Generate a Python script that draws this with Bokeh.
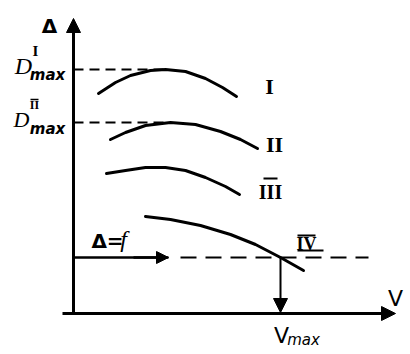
from bokeh.plotting import figure
from bokeh.models import Range1d, Arrow, NormalHead
from bokeh.core.properties import value
from bokeh.embed import file_html
from bokeh.resources import INLINE

# ---- data (V along x, Δ along y; origin at the axes crossing) ----
curve_I_v = [25, 42, 57, 77, 92, 112, 132, 149, 163]
curve_I_d = [220, 231, 238, 243, 244, 242, 235, 226, 217]
curve_II_v = [37, 52, 72, 97, 122, 147, 167, 184]
curve_II_d = [174, 181, 188, 191, 189, 182, 174, 165]
curve_III_v = [33, 52, 72, 92, 112, 132, 152, 166]
curve_III_d = [140, 143, 146, 146, 143, 136, 127, 119]
curve_IV_v = [72, 97, 127, 157, 182, 207, 230]
curve_IV_d = [97, 94, 88, 79, 69, 56, 43]
curve_labels = ["I", "II", "III", "IV"]

d_max_I = 244
d_max_I_v = 92
d_max_II = 191
d_max_II_v = 90
f_level = 56
v_max = 207
v_axis_end = 322
d_axis_end = 295

p = figure(width=410, height=354, output_backend="svg", toolbar_location=None,
           x_range=Range1d(-73, 337), y_range=Range1d(-41, 313),
           min_border=0, background_fill_color="white", border_fill_color="white")
p.axis.visible = False
p.grid.visible = False
p.outline_line_color = None

K = "black"
LW = 3

# axes
p.line([-11, v_axis_end - 6], [0, 0], line_width=LW, line_color=K)
p.add_layout(Arrow(end=NormalHead(size=14, fill_color=K, line_color=K, line_width=1),
                   x_start=v_axis_end - 20, y_start=0, x_end=v_axis_end, y_end=0,
                   line_width=LW, line_color=K))
p.line([0, 0], [0, d_axis_end - 6], line_width=LW, line_color=K)
p.add_layout(Arrow(end=NormalHead(size=14, fill_color=K, line_color=K, line_width=1),
                   x_start=0, y_start=d_axis_end - 20, x_end=0, y_end=d_axis_end,
                   line_width=LW, line_color=K))

# curves
for xs, ys in [(curve_I_v, curve_I_d), (curve_II_v, curve_II_d),
               (curve_III_v, curve_III_d), (curve_IV_v, curve_IV_d)]:
    p.line(xs, ys, line_width=LW, line_color=K, line_cap="round", line_join="round")

# Dmax dashed guides
p.line([0, d_max_I_v], [d_max_I, d_max_I], line_width=2, line_color=K, line_dash="10 6")
p.line([0, d_max_II_v], [d_max_II, d_max_II], line_width=2, line_color=K, line_dash="10 6")

# Δ = f line: solid with arrow, then dashed
p.line([0, 95], [f_level, f_level], line_width=2.5, line_color=K)
p.add_layout(Arrow(end=NormalHead(size=12, fill_color=K, line_color=K, line_width=1),
                   x_start=60, y_start=f_level, x_end=95, y_end=f_level,
                   line_width=2.5, line_color=K))
p.line([107, 295], [f_level, f_level], line_width=2, line_color=K, line_dash="16 9")

# vertical arrow to Vmax
p.add_layout(Arrow(end=NormalHead(size=14, fill_color=K, line_color=K, line_width=1),
                   x_start=v_max, y_start=f_level, x_end=v_max, y_end=1,
                   line_width=2, line_color=K))

def txt(x, y, s, size, font="DejaVu Sans", style="normal", align="center"):
    p.text([x], [y], text=[s], text_font=value(font), text_font_size=size,
           text_font_style=style, text_align=align, text_baseline="middle", text_color=K)

# axis labels
txt(-24, 288, "Δ", "20px", style="bold")
txt(322, 15, "V", "22px")
txt(208, -22, "V", "22px")
txt(230, -26, "max", "15px", style="italic")

# Dmax labels
txt(-50, 248, "D", "24px", font="Liberation Serif", style="italic")
txt(-26, 239, "max", "15px", style="bold italic")
txt(-38, 263, "I", "15px", font="Liberation Serif", style="bold")
txt(-52, 194, "D", "22px", font="Liberation Serif", style="italic")
txt(-26, 185, "max", "15px", style="bold italic")
txt(-39, 209, "II", "12px", font="Liberation Serif", style="bold")
p.line([-43, -35], [214, 214], line_width=1.5, line_color=K)

# Δ = f
txt(34, 73, "Δ=", "20px", style="bold")
txt(50, 75, "f", "24px", font="Liberation Serif", style="italic")

# curve numerals
txt(196, 227, curve_labels[0], "22px", font="Liberation Serif", style="bold")
txt(201, 169, curve_labels[1], "22px", font="Liberation Serif", style="bold")
txt(197, 122, curve_labels[2], "20px", font="Liberation Serif", style="bold")
p.line([190, 204], [135, 135], line_width=2, line_color=K)
txt(233, 70, curve_labels[3], "18px", font="Liberation Serif", style="bold")
p.line([224, 242], [78, 78], line_width=2, line_color=K)
p.line([224, 250], [63, 63], line_width=2, line_color=K)

open("out.html", "w").write(file_html(p, INLINE))
